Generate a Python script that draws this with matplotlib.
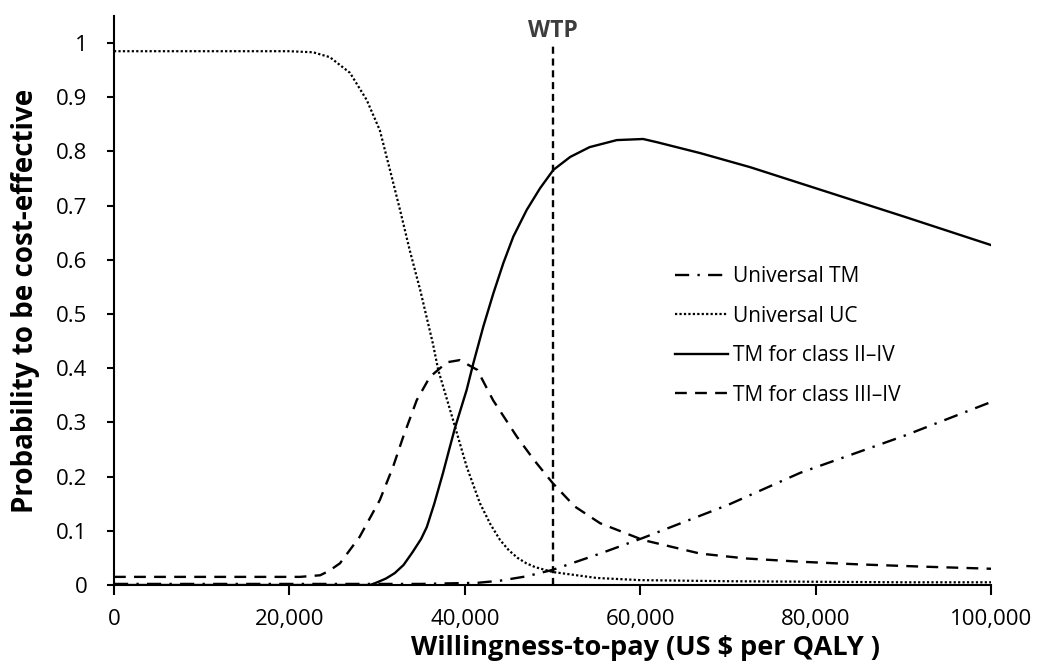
import numpy as np
import matplotlib
matplotlib.use("Agg")
import matplotlib.pyplot as plt
from matplotlib.ticker import FuncFormatter

plt.rcParams['font.family'] = ['Open Sans', 'DejaVu Sans']

# values (x = WTP in US$ per QALY)
uc_x = [0, 10000, 20000, 22700, 24600, 26900, 28800, 30300, 31450, 32600, 33700,
        34900, 36350, 36950, 38650, 40200, 41700, 42900, 44000, 45000, 46000,
        47000, 48000, 50000, 55000, 60000, 70000, 80000, 90000, 100000]
uc_y = [0.985, 0.985, 0.985, 0.983, 0.974, 0.945, 0.895, 0.839, 0.766, 0.692, 0.618,
        0.544, 0.445, 0.397, 0.304, 0.218, 0.151, 0.112, 0.083, 0.064, 0.05,
        0.04, 0.033, 0.024, 0.013, 0.009, 0.007, 0.006, 0.005, 0.005]

c24_x = [0, 10000, 20000, 29200, 30000, 31000, 32000, 33000, 34000, 35000, 35650,
         36500, 37500, 38200, 38860, 40190, 40950, 42090, 43230, 44370, 45510,
         47030, 48550, 50070, 52000, 54200, 57300, 60300, 61900, 66800, 72500,
         80000, 90000, 100000]
c24_y = [0, 0, 0, 0, 0.005, 0.012, 0.022, 0.037, 0.06, 0.085, 0.107,
         0.15, 0.207, 0.25, 0.29, 0.36, 0.409, 0.477, 0.538, 0.594, 0.643,
         0.692, 0.732, 0.766, 0.79, 0.808, 0.821, 0.823, 0.817, 0.797, 0.771,
         0.732, 0.68, 0.627]

c34_x = [0, 10000, 21200, 23500, 24500, 25750, 28000, 30300, 31800, 32950, 34500,
         36000, 37950, 39400, 41400, 43200, 45900, 47900, 50000, 52500, 55400,
         60300, 66800, 72000, 78200, 85000, 92000, 100000]
c34_y = [0.015, 0.015, 0.015, 0.018, 0.026, 0.04, 0.089, 0.157, 0.218, 0.273, 0.341,
         0.384, 0.411, 0.415, 0.397, 0.341, 0.274, 0.23, 0.188, 0.145, 0.114,
         0.083, 0.058, 0.049, 0.043, 0.038, 0.034, 0.03]

utm_x = [0, 20000, 35000, 38000, 41400, 44000, 47000, 50000, 55400, 60300, 70000,
         78200, 90000, 100000]
utm_y = [0.002, 0.002, 0.002, 0.003, 0.004, 0.008, 0.016, 0.028, 0.058, 0.087, 0.148,
         0.207, 0.275, 0.338]

wtp = 50000
x_ticks = [0, 20000, 40000, 60000, 80000, 100000]
y_ticks = [0, 0.1, 0.2, 0.3, 0.4, 0.5, 0.6, 0.7, 0.8, 0.9, 1]

fig = plt.figure(figsize=(10.38, 6.66), dpi=100)
ax = fig.add_axes([0.1098, 0.1216, 0.8454, 0.8544])

ax.plot(utm_x, utm_y, color='black', lw=1.7, ls=(0, (6, 3.5, 1, 3.5)), label='Universal TM')
ax.plot(uc_x, uc_y, color='black', lw=1.6, ls=(0, (1, 1)), label='Universal UC')
ax.plot(c24_x, c24_y, color='black', lw=1.7, ls='-', label='TM for class II\u2013IV')
ax.plot(c34_x, c34_y, color='black', lw=1.7, ls=(0, (5, 3.5)), label='TM for class III\u2013IV')

ax.plot([wtp, wtp], [0, 1.0], color='black', lw=1.7, ls=(0, (3, 2)))
ax.text(wtp, 1.0, 'WTP', ha='center', va='bottom', fontsize=16.5,
        fontweight='bold', color='#3d3d3d')

ax.set_xlim(0, 100000)
ax.set_ylim(0, 1.05)
ax.set_xticks(x_ticks)
ax.set_yticks(y_ticks)
ax.xaxis.set_major_formatter(FuncFormatter(lambda v, p: f'{int(v):,}'))
ax.yaxis.set_major_formatter(FuncFormatter(lambda v, p: f'{v:g}'))
ax.tick_params(axis='x', direction='out', length=7, width=1.5, pad=10, labelsize=16)
ax.tick_params(axis='y', direction='out', length=5, width=1.5, pad=14, labelsize=16)

for s in ['top', 'right']:
    ax.spines[s].set_visible(False)
for s in ['left', 'bottom']:
    ax.spines[s].set_linewidth(1.5)

ax.set_xlabel('Willingness-to-pay (US $ per QALY )', fontsize=19.5, fontweight='bold')
ax.set_ylabel('Probability to be cost-effective', fontsize=20, fontweight='bold')
ax.xaxis.set_label_coords(0.606, -0.087)
ax.yaxis.set_label_coords(-0.084, 0.5)

ax.legend(loc='center left', bbox_to_anchor=(0.639, 0.438), frameon=False, fontsize=15,
          borderpad=0, borderaxespad=0, handlelength=2.55, handletextpad=0.25,
          labelspacing=0.89)

fig.savefig('out.png', dpi=100)
